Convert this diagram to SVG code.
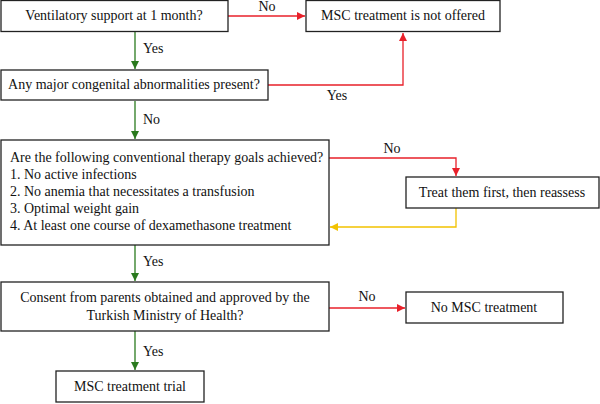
<svg xmlns="http://www.w3.org/2000/svg" width="600" height="404" viewBox="0 0 600 404" font-family="'Liberation Serif', 'Times New Roman', Times, 'DejaVu Serif', serif">
<style>
.box{fill:#fff;stroke:#222;stroke-width:1.3}
text{font-family:"Liberation Serif","Times New Roman",Times,"DejaVu Serif",serif;font-size:14px;fill:#111}
.c{text-anchor:middle}
.r{fill:none;stroke:#e8202a;stroke-width:1.3}
.g{fill:none;stroke:#2a7a1e;stroke-width:1.3}
.y{fill:none;stroke:#f2c200;stroke-width:1.3}
</style>
<defs>
<marker id="ar" viewBox="0 0 10 10" refX="10" refY="5" markerWidth="8" markerHeight="8" markerUnits="userSpaceOnUse" orient="auto"><path d="M0,0L10,5L0,10z" fill="#e8202a"/></marker>
<marker id="ag" viewBox="0 0 10 10" refX="10" refY="5" markerWidth="8" markerHeight="8" markerUnits="userSpaceOnUse" orient="auto"><path d="M0,0L10,5L0,10z" fill="#2a7a1e"/></marker>
<marker id="ay" viewBox="0 0 10 10" refX="10" refY="5" markerWidth="8" markerHeight="8" markerUnits="userSpaceOnUse" orient="auto"><path d="M0,0L10,5L0,10z" fill="#f2c200"/></marker>
</defs>
<g id="connectors">
<path class="r" d="M228,16H305" marker-end="url(#ar)"/>
<text x="267" y="11" class="c">No</text>
<path class="g" d="M135,32V69" marker-end="url(#ag)"/>
<text x="143" y="53">Yes</text>
<path class="r" d="M268,85H403V33" marker-end="url(#ar)"/>
<text x="337" y="100" class="c">Yes</text>
<path class="g" d="M135,101V139" marker-end="url(#ag)"/>
<text x="143" y="124">No</text>
<path class="r" d="M329,158H456V176" marker-end="url(#ar)"/>
<text x="392" y="153" class="c">No</text>
<path class="y" d="M456,208V227H330" marker-end="url(#ay)"/>
<path class="g" d="M135,245V281" marker-end="url(#ag)"/>
<text x="143" y="266">Yes</text>
<path class="r" d="M329,308H405" marker-end="url(#ar)"/>
<text x="367" y="301" class="c">No</text>
<path class="g" d="M135,331V370" marker-end="url(#ag)"/>
<text x="143" y="356">Yes</text>
</g>
<g id="n1"><rect class="box" x="1" y="0.5" width="227" height="31"/><text x="114" y="20" class="c">Ventilatory support at 1 month?</text></g>
<g id="n2"><rect class="box" x="306" y="0.5" width="194" height="31"/><text x="403" y="20" class="c">MSC treatment is not offered</text></g>
<g id="n3"><rect class="box" x="1" y="70" width="267" height="30"/><text x="134" y="89" class="c">Any major congenital abnormalities present?</text></g>
<g id="n4"><rect class="box" x="1" y="140" width="328" height="105"/>
<text x="10" y="162">Are the following conventional therapy goals achieved?</text>
<text x="10" y="179">1. No active infections</text>
<text x="10" y="196">2. No anemia that necessitates a transfusion</text>
<text x="10" y="213">3. Optimal weight gain</text>
<text x="10" y="230">4. At least one course of dexamethasone treatment</text></g>
<g id="n5"><rect class="box" x="406" y="177" width="193" height="31"/><text x="502" y="197" class="c">Treat them first, then reassess</text></g>
<g id="n6"><rect class="box" x="1" y="282" width="328" height="49"/><text x="165" y="302" class="c">Consent from parents obtained and approved by the</text><text x="165" y="320" class="c">Turkish Ministry of Health?</text></g>
<g id="n7"><rect class="box" x="406" y="292" width="157" height="31"/><text x="484" y="312" class="c">No MSC treatment</text></g>
<g id="n8"><rect class="box" x="56" y="371" width="148" height="31"/><text x="130" y="391" class="c">MSC treatment trial</text></g>
</svg>
